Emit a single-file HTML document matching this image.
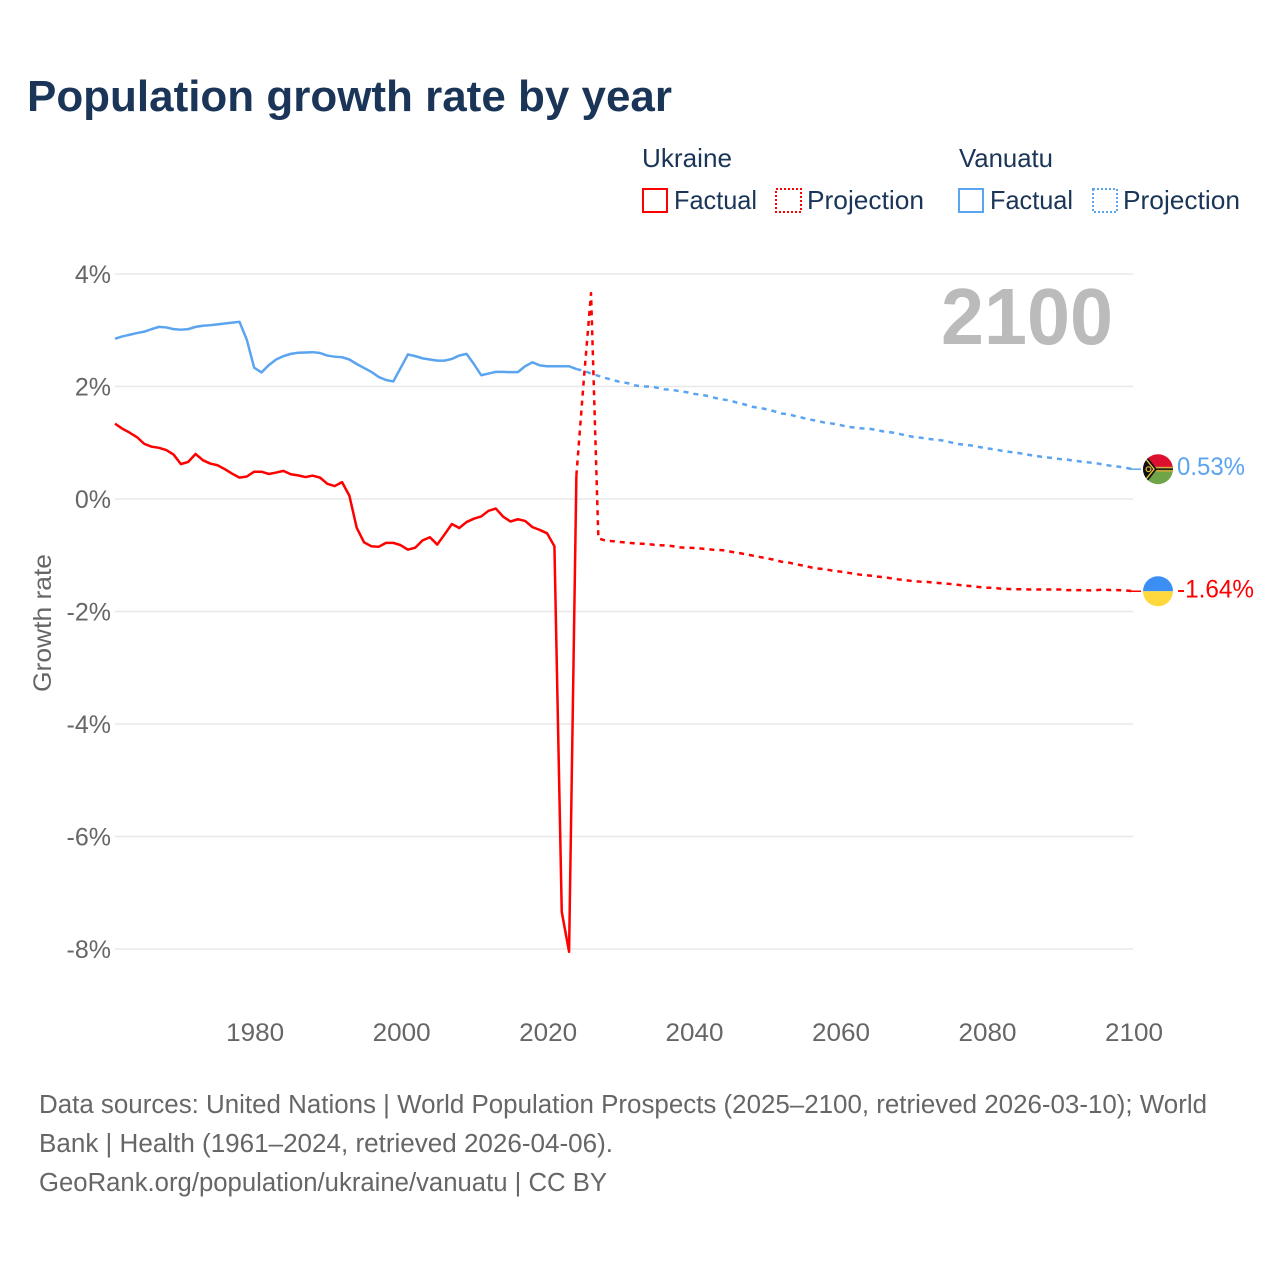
<!DOCTYPE html>
<html lang="en">
<head>
<meta charset="utf-8">
<title>Population growth rate by year</title>
<style>
html,body{margin:0;padding:0;background:#fff;}
svg{display:block;}
text{font-family:"Liberation Sans",sans-serif;}
</style>
</head>
<body>
<svg id="chart" xmlns="http://www.w3.org/2000/svg" width="1280" height="1280" viewBox="0 0 1280 1280">
  <defs>
    <clipPath id="flag-clip"><circle cx="0" cy="0" r="15"/></clipPath>
  </defs>
  <rect x="0" y="0" width="1280" height="1280" fill="#fff"/>
  <text x="27" y="111" font-size="44" font-weight="700" fill="#1a3557" textLength="645" lengthAdjust="spacingAndGlyphs">Population growth rate by year</text>

  <g font-size="26" fill="#1a3557">
    <text x="642" y="167" textLength="90" lengthAdjust="spacingAndGlyphs">Ukraine</text>
    <text x="959" y="167" textLength="94" lengthAdjust="spacingAndGlyphs">Vanuatu</text>
    <g>
      <rect x="643" y="189" width="24" height="23" fill="none" stroke="#ff0000" stroke-width="2"/>
      <text x="674" y="209" textLength="83" lengthAdjust="spacingAndGlyphs">Factual</text>
    </g>
    <g>
      <rect x="776" y="189" width="25" height="23" fill="none" stroke="#ff0000" stroke-width="2" stroke-dasharray="2 2"/>
      <text x="807" y="209" textLength="117" lengthAdjust="spacingAndGlyphs">Projection</text>
    </g>
    <g>
      <rect x="959" y="189" width="24" height="23" fill="none" stroke="#5ba4ef" stroke-width="2"/>
      <text x="990" y="209" textLength="83" lengthAdjust="spacingAndGlyphs">Factual</text>
    </g>
    <g>
      <rect x="1093" y="189" width="24" height="23" fill="none" stroke="#5ba4ef" stroke-width="2" stroke-dasharray="2 2"/>
      <text x="1123" y="209" textLength="117" lengthAdjust="spacingAndGlyphs">Projection</text>
    </g>
  </g>

  <g id="grid"></g>
  <g id="y-ticks"></g>
  <g id="x-ticks"></g>
  <text transform="translate(51,623) rotate(-90)" text-anchor="middle" font-size="25" fill="#666" textLength="138" lengthAdjust="spacingAndGlyphs">Growth rate</text>
  <text x="941" y="344" font-size="80" font-weight="700" fill="#bbbbbb" textLength="172" lengthAdjust="spacingAndGlyphs">2100</text>

  <g id="series"></g>

  <g id="flag-vu">
    <g clip-path="url(#flag-clip)">
      <rect x="-16" y="-16" width="32" height="16" fill="#dc0f2f"/>
      <rect x="-16" y="0" width="32" height="16" fill="#6fa548"/>
      <rect x="-16" y="-2.4" width="32" height="4.8" fill="#d8ae35"/>
      <rect x="-4" y="-0.9" width="20" height="1.8" fill="#222"/>
      <polygon points="-16,-14 -12,-14 -1,0 -12,14 -16,14" fill="#111"/>
      <polyline points="-12,-10 -4,0 -12,10" fill="none" stroke="#e8c33f" stroke-width="1.4"/>
      <circle cx="-9.5" cy="0" r="2.4" fill="none" stroke="#e8c33f" stroke-width="1.2"/>
    </g>
  </g>
  <g id="flag-ua">
    <g clip-path="url(#flag-clip)">
      <rect x="-16" y="-16" width="32" height="16" fill="#3b8ef3"/>
      <rect x="-16" y="0" width="32" height="16" fill="#ffd83d"/>
    </g>
  </g>
  <text id="label-vu" x="1177" font-size="25" fill="#5ba4ef" textLength="68" lengthAdjust="spacingAndGlyphs"></text>
  <text id="label-ua" x="1177" font-size="25" fill="#ff0000" textLength="77" lengthAdjust="spacingAndGlyphs"></text>

  <g font-size="25.5" fill="#666">
    <text x="39" y="1113" textLength="1168" lengthAdjust="spacingAndGlyphs">Data sources: United Nations | World Population Prospects (2025–2100, retrieved 2026-03-10); World</text>
    <text x="39" y="1152" textLength="574" lengthAdjust="spacingAndGlyphs">Bank | Health (1961–2024, retrieved 2026-04-06).</text>
    <text x="39" y="1191" textLength="568" lengthAdjust="spacingAndGlyphs">GeoRank.org/population/ukraine/vanuatu | CC BY</text>
  </g>
</svg>
<script>
const yTickValues = [4, 2, 0, -2, -4, -6, -8];
const xTickYears = [1980, 2000, 2020, 2040, 2060, 2080, 2100];
const factualStartYear = 1961;
const projectionStartYear = 2024;

const ukraineFactual = [1.34,1.25,1.18,1.10,0.98,0.93,0.91,0.87,0.79,0.62,0.66,0.80,0.69,0.63,0.60,0.53,0.45,0.38,0.40,0.485,
  0.485,0.445,0.47,0.50,0.44,0.42,0.39,0.415,0.38,0.27,0.23,0.30,0.06,-0.51,-0.77,-0.84,-0.85,-0.78,-0.78,-0.82,
  -0.90,-0.865,-0.735,-0.68,-0.81,-0.63,-0.445,-0.515,-0.41,-0.35,-0.31,-0.21,-0.17,-0.315,-0.40,-0.36,-0.39,-0.50,-0.55,-0.61,
  -0.84,-7.34,-8.05,0.42];
const ukraineProjection = [0.42,2.1,3.66,-0.70,-0.74,-0.75,-0.765,-0.775,-0.79,-0.795,-0.805,-0.82,-0.825,-0.835,-0.86,-0.865,-0.87,
  -0.88,-0.895,-0.905,-0.91,-0.935,-0.955,-0.98,-1.005,-1.03,-1.055,-1.08,-1.115,-1.13,-1.16,-1.185,-1.215,-1.235,-1.25,-1.275,-1.29,
  -1.31,-1.33,-1.35,-1.36,-1.38,-1.39,-1.41,-1.43,-1.445,-1.46,-1.47,-1.475,-1.49,-1.50,-1.51,-1.525,-1.54,-1.55,-1.565,-1.575,
  -1.58,-1.595,-1.60,-1.605,-1.605,-1.61,-1.61,-1.61,-1.61,-1.61,-1.62,-1.62,-1.62,-1.625,-1.62,-1.61,-1.62,-1.62,-1.625,-1.64];

const vanuatuFactual = [2.85,2.89,2.92,2.95,2.975,3.02,3.06,3.05,3.02,3.01,3.02,3.06,3.08,3.09,3.105,3.12,3.135,3.15,2.83,2.335,
  2.25,2.38,2.48,2.54,2.58,2.60,2.605,2.61,2.595,2.55,2.53,2.52,2.48,2.40,2.33,2.26,2.17,2.115,2.09,2.33,
  2.57,2.54,2.50,2.48,2.46,2.46,2.49,2.55,2.58,2.40,2.20,2.23,2.26,2.26,2.255,2.255,2.36,2.43,2.375,2.36,
  2.36,2.36,2.36,2.31];
const vanuatuProjection = [2.31,2.28,2.23,2.19,2.15,2.115,2.08,2.06,2.02,2.00,2.00,1.98,1.95,1.94,1.92,1.90,1.87,
  1.855,1.83,1.795,1.77,1.75,1.71,1.68,1.64,1.62,1.595,1.56,1.52,1.505,1.47,1.44,1.41,1.385,1.355,1.34,1.315,
  1.285,1.27,1.255,1.25,1.225,1.20,1.185,1.16,1.13,1.105,1.09,1.07,1.055,1.04,1.01,0.98,0.965,0.95,0.925,0.90,
  0.885,0.86,0.84,0.825,0.805,0.78,0.76,0.74,0.73,0.71,0.70,0.68,0.665,0.65,0.635,0.61,0.59,0.575,0.555,0.53];

const SVG_NS = 'http://www.w3.org/2000/svg';
function xScale(year) { return 115 + (year - 1961) * (1133 - 115) / (2100 - 1961); }
function yScale(value) { return 499 - value * 56.25; }
function pathFrom(values, startYear) {
  return values.map(function (v, i) {
    return (i ? 'L' : 'M') + xScale(startYear + i).toFixed(2) + ' ' + yScale(v).toFixed(2);
  }).join('');
}

const gridGroup = document.getElementById('grid');
const yTickGroup = document.getElementById('y-ticks');
yTickValues.forEach(function (t) {
  const line = document.createElementNS(SVG_NS, 'line');
  
  
  line.setAttribute('x1', 115);
  line.setAttribute('x2', 1133);
  line.setAttribute('y1', yScale(t));
  line.setAttribute('y2', yScale(t));
  line.setAttribute('stroke', '#e8e8e8');
  line.setAttribute('stroke-width', '1.5');
  gridGroup.appendChild(line);

  const label = document.createElementNS(SVG_NS, 'text');
  
  
  label.setAttribute('x', 111);
  label.setAttribute('y', yScale(t) + 9);
  label.setAttribute('text-anchor', 'end');
  label.setAttribute('font-size', '25');
  label.setAttribute('fill', '#666');
  label.textContent = t + '%';
  yTickGroup.appendChild(label);
});

const xTickGroup = document.getElementById('x-ticks');
xTickYears.forEach(function (yr) {
  const label = document.createElementNS(SVG_NS, 'text');
  
  
  label.setAttribute('x', xScale(yr) + 1);
  label.setAttribute('y', 1041);
  label.setAttribute('text-anchor', 'middle');
  label.setAttribute('font-size', '25');
  label.setAttribute('fill', '#666');
  label.setAttribute('textLength', '58');
  label.setAttribute('lengthAdjust', 'spacingAndGlyphs');
  label.textContent = yr;
  xTickGroup.appendChild(label);
});

const seriesGroup = document.getElementById('series');
function addLine(name, d, color, dash, width) {
  const p = document.createElementNS(SVG_NS, 'path');
  
  
  p.setAttribute('d', d);
  p.setAttribute('fill', 'none');
  p.setAttribute('stroke', color);
  p.setAttribute('stroke-width', width);
  p.setAttribute('stroke-linejoin', 'round');
  if (dash) { p.setAttribute('stroke-dasharray', dash); }
  seriesGroup.appendChild(p);
}
addLine('vanuatu-factual-line', pathFrom(vanuatuFactual, factualStartYear), '#5ba4ef', null, '2.5');
addLine('vanuatu-projection-line', pathFrom(vanuatuProjection, projectionStartYear), '#5ba4ef', '5 5', '2.5');
addLine('ukraine-factual-line', pathFrom(ukraineFactual, factualStartYear), '#ff0000', null, '2.5');
addLine('ukraine-projection-line', pathFrom(ukraineProjection, projectionStartYear), '#ff0000', '5 5', '2.5');

const vuEnd = vanuatuProjection[vanuatuProjection.length - 1];
const uaEnd = ukraineProjection[ukraineProjection.length - 1];
addLine('vanuatu-end-connector', 'M' + (xScale(2100) - 3) + ' ' + yScale(vuEnd) + 'H1141', '#5ba4ef', null, '1.5');
addLine('ukraine-end-connector', 'M' + (xScale(2100) - 3) + ' ' + yScale(uaEnd) + 'H1141', '#ff0000', null, '1.5');

document.getElementById('flag-vu').setAttribute('transform', 'translate(1158,' + yScale(vuEnd) + ')');
document.getElementById('flag-ua').setAttribute('transform', 'translate(1158,' + yScale(uaEnd) + ')');
const labelVu = document.getElementById('label-vu');
labelVu.setAttribute('y', yScale(vuEnd) + 6);
labelVu.textContent = vuEnd.toFixed(2) + '%';
const labelUa = document.getElementById('label-ua');
labelUa.setAttribute('y', yScale(uaEnd) + 6);
labelUa.textContent = uaEnd.toFixed(2) + '%';
</script>
</body>
</html>
